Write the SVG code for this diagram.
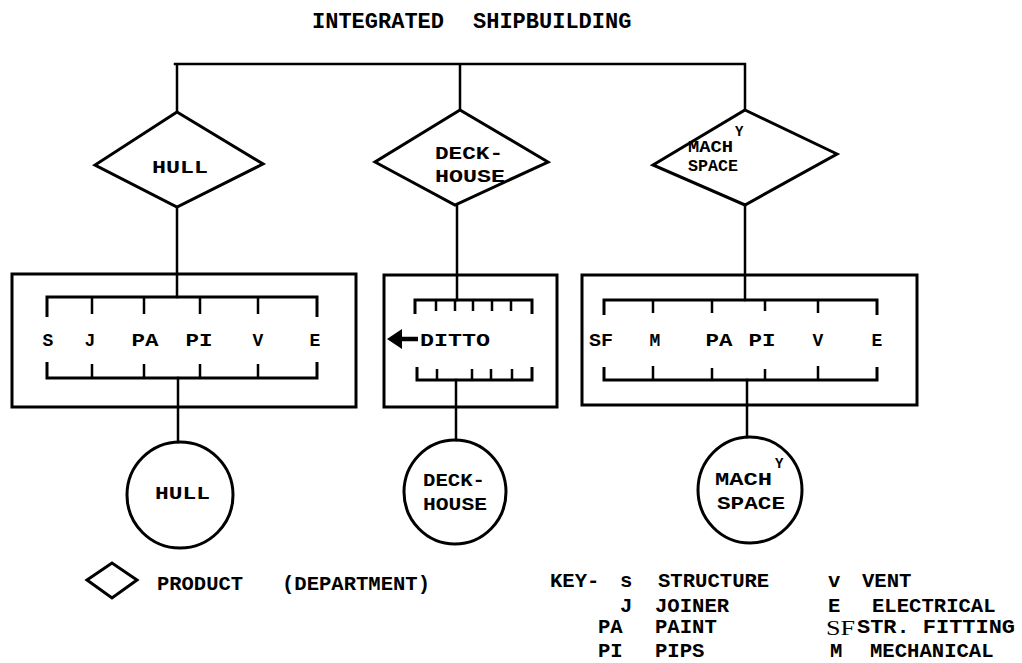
<svg xmlns="http://www.w3.org/2000/svg" width="1022" height="663" viewBox="0 0 1022 663">
<defs>
<style>
.ln{fill:none;stroke:#000;stroke-width:2.5;stroke-linecap:square;stroke-linejoin:miter}
.bx{fill:none;stroke:#000;stroke-width:3}
.br{fill:none;stroke:#000;stroke-width:3}
.tk{fill:none;stroke:#000;stroke-width:2.5}
.t{font-family:"Liberation Mono","Courier New",monospace;font-weight:bold;fill:#000}
.ttl{font-size:22px}
.nd{font-size:19px}
.ns{font-size:16px}
.lt{font-size:18px}
.ky{font-size:20.6px}
.sf{font-family:"Liberation Serif","Times New Roman",serif;font-size:20px;fill:#000}
</style>
</defs>
<rect width="1022" height="663" fill="#fff"/>

<g id="title">
<text class="t ttl" x="312" y="28">INTEGRATED</text>
<text class="t ttl" x="473" y="28">SHIPBUILDING</text>
</g>

<g id="connectors">
<path class="ln" d="M175,64 H745 M177,64 V112 M460,64 V110 M745,64 V110"/>
<path class="ln" d="M177,207 V297 M457,205 V300 M745,205 V300"/>
<path class="ln" d="M178,378 V442 M456,380 V440 M747,380 V437"/>
</g>

<g id="diamond-hull">
<polygon class="bx" points="177,112 263,164 177,207 95,165"/>
<text class="t nd" x="152" y="173" textLength="56" lengthAdjust="spacingAndGlyphs">HULL</text>
</g>
<g id="diamond-deckhouse">
<polygon class="bx" points="460,110 548,162 455,205 375,162"/>
<text class="t nd" x="435" y="159" textLength="68" lengthAdjust="spacingAndGlyphs">DECK-</text>
<text class="t nd" x="435" y="182" textLength="70" lengthAdjust="spacingAndGlyphs">HOUSE</text>
</g>
<g id="diamond-mach">
<polygon class="bx" points="745,110 837,154 745,205 653,165"/>
<text class="t ns" x="688" y="152" textLength="45" lengthAdjust="spacingAndGlyphs">MACH</text>
<text class="t" x="735" y="136" font-size="14">Y</text>
<text class="t ns" x="688" y="171" textLength="50" lengthAdjust="spacingAndGlyphs">SPACE</text>
</g>

<g id="box-hull">
<rect class="bx" x="12" y="274" width="344" height="133"/>
<path class="br" d="M47,317 V297 H317 V317"/>
<path class="tk" d="M92,297 V314 M144,297 V314 M200,297 V314 M258,297 V314"/>
<path class="br" d="M47,362 V378 H317 V362"/>
<path class="tk" d="M92,378 V364 M144,378 V364 M200,378 V364 M258,378 V364"/>
<g class="t lt" text-anchor="middle">
<text x="48" y="346">S</text>
<text x="90" y="346">J</text>
<text x="145" y="346" textLength="27" lengthAdjust="spacingAndGlyphs">PA</text>
<text x="199" y="346" textLength="27" lengthAdjust="spacingAndGlyphs">PI</text>
<text x="258" y="346">V</text>
<text x="315" y="346">E</text>
</g>
</g>

<g id="box-deckhouse">
<rect class="bx" x="384" y="275" width="173" height="132"/>
<path class="br" d="M415,314 V300 H532 V314"/>
<path class="tk" d="M436,300 V311 M455,300 V311 M473,300 V311 M492,300 V311 M511,300 V311"/>
<path class="br" d="M417,367 V380 H532 V367"/>
<path class="tk" d="M437,380 V369 M472,380 V369 M491,380 V369 M512,380 V369"/>
<path d="M400,339 H418" fill="none" stroke="#000" stroke-width="4.5"/>
<polygon points="387,339 402,329 402,349" fill="#000"/>
<text class="t lt" x="420" y="346" textLength="70" lengthAdjust="spacingAndGlyphs">DITTO</text>
</g>

<g id="box-mach">
<rect class="bx" x="582" y="275" width="335" height="130"/>
<path class="br" d="M604,315 V300 H877 V315"/>
<path class="tk" d="M653,300 V313 M712,300 V313 M765,300 V311 M818,300 V313"/>
<path class="br" d="M604,367 V380 H877 V367"/>
<path class="tk" d="M653,380 V366 M712,380 V368 M765,380 V369 M818,380 V366"/>
<g class="t lt" text-anchor="middle">
<text x="601" y="346" textLength="24" lengthAdjust="spacingAndGlyphs">SF</text>
<text x="655" y="346">M</text>
<text x="719" y="346" textLength="27" lengthAdjust="spacingAndGlyphs">PA</text>
<text x="762" y="346" textLength="27" lengthAdjust="spacingAndGlyphs">PI</text>
<text x="818" y="346">V</text>
<text x="877" y="346">E</text>
</g>
</g>

<g id="circle-hull">
<ellipse class="bx" cx="180" cy="495" rx="53" ry="53"/>
<text class="t nd" x="155" y="499" textLength="55" lengthAdjust="spacingAndGlyphs">HULL</text>
</g>
<g id="circle-deckhouse">
<ellipse class="bx" cx="455" cy="492" rx="51" ry="52"/>
<text class="t nd" x="423" y="486" textLength="62" lengthAdjust="spacingAndGlyphs">DECK-</text>
<text class="t nd" x="423" y="510" textLength="64" lengthAdjust="spacingAndGlyphs">HOUSE</text>
</g>
<g id="circle-mach">
<ellipse class="bx" cx="750" cy="490" rx="52" ry="53"/>
<text class="t nd" x="715" y="485" textLength="57" lengthAdjust="spacingAndGlyphs">MACH</text>
<text class="t" x="775" y="468" font-size="14">Y</text>
<text class="t nd" x="717" y="509" textLength="68" lengthAdjust="spacingAndGlyphs">SPACE</text>
</g>

<g id="legend">
<polygon class="bx" points="87,580 112,563 137,580 112,598"/>
<text class="t ky" x="157" y="590" textLength="86" lengthAdjust="spacingAndGlyphs">PRODUCT</text>
<text class="t ky" x="282" y="590" textLength="148" lengthAdjust="spacingAndGlyphs">(DEPARTMENT)</text>
</g>

<g id="key" class="t ky">
<text x="550" y="587">KEY-</text>
<text x="620" y="587">s</text>
<text x="658" y="587">STRUCTURE</text>
<text x="828" y="587">v</text>
<text x="862" y="587">VENT</text>
<text x="620" y="612">J</text>
<text x="655" y="612">JOINER</text>
<text x="828" y="612">E</text>
<text x="872" y="612">ELECTRICAL</text>
<text x="598" y="633">PA</text>
<text x="655" y="633">PAINT</text>
<text x="857" y="633" textLength="158" lengthAdjust="spacingAndGlyphs">STR. FITTING</text>
<text x="598" y="657">PI</text>
<text x="655" y="657">PIPS</text>
<text x="830" y="657">M</text>
<text x="870" y="657">MECHANICAL</text>
</g>
<text class="sf" x="826" y="635" textLength="29" lengthAdjust="spacingAndGlyphs">SF</text>
</svg>
